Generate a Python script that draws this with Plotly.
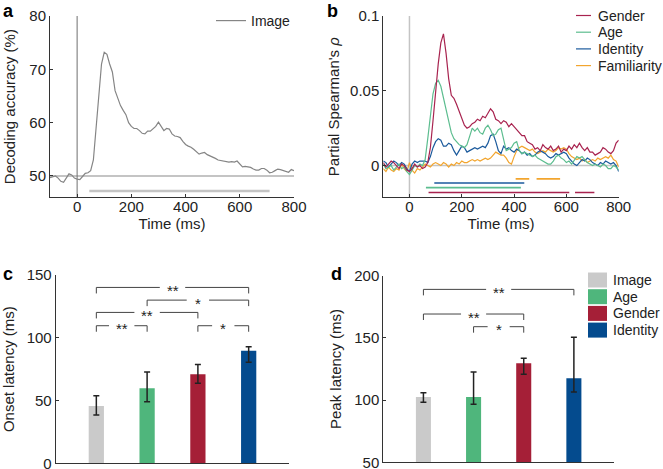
import plotly.graph_objects as go

# ---------------- data ----------------
time_ms = list(range(-100, 801, 10))

image_acc = [49.7, 49.8, 50.0, 49.6, 49.0, 48.8, 49.6, 50.4, 50.2, 49.6,
             49.4, 49.3, 49.9, 50.5, 50.6, 51.0, 53.0, 59.0, 66.5, 71.0,
             73.2, 72.8, 71.0, 69.5, 66.0, 64.5, 63.2, 62.3, 61.5, 60.0,
             59.3, 58.9, 58.9, 58.5, 58.0, 57.9, 58.4, 58.4, 58.8, 59.3,
             60.1, 59.4, 58.5, 58.9, 58.8, 57.9, 57.5, 57.4, 57.2, 56.5,
             55.9, 55.6, 55.4, 55.0, 54.6, 54.1, 54.3, 54.4, 54.0, 53.8,
             53.5, 53.3, 53.0, 52.9, 52.8, 52.7, 52.6, 52.7, 52.6, 52.8,
             52.3, 51.7, 51.8, 51.7, 51.6, 51.3, 51.1, 51.1, 51.4, 51.4,
             51.1, 50.6, 50.7, 51.0, 51.3, 51.2, 51.0, 50.8, 50.7, 51.2, 51.0]

gender_rho = [0.002, -0.001, 0.001, 0.003, 0.002, 0.000, -0.002, 0.001, 0.000, -0.003,
              -0.004, -0.002, 0.001, -0.001, 0.000, -0.002, -0.001, 0.002, 0.012, 0.030,
              0.052, 0.068, 0.082, 0.088, 0.075, 0.058, 0.047, 0.045, 0.041, 0.036,
              0.031, 0.027, 0.025, 0.026, 0.028, 0.029, 0.031, 0.030, 0.033, 0.032,
              0.035, 0.038, 0.036, 0.031, 0.030, 0.028, 0.030, 0.029, 0.026, 0.028,
              0.026, 0.024, 0.022, 0.020, 0.020, 0.016, 0.015, 0.014, 0.011, 0.012,
              0.010, 0.014, 0.012, 0.011, 0.013, 0.010, 0.011, 0.013, 0.009, 0.011,
              0.010, 0.013, 0.011, 0.014, 0.012, 0.015, 0.012, 0.010, 0.012, 0.009,
              0.009, 0.007, 0.008, 0.009, 0.012, 0.011, 0.009, 0.008, 0.010, 0.015, 0.017]

age_rho = [0.001, -0.002, -0.001, 0.000, -0.003, -0.001, 0.001, -0.002, -0.001, -0.004,
           -0.006, -0.003, 0.000, -0.001, 0.001, 0.000, 0.004, 0.018, 0.035, 0.048,
           0.055, 0.057, 0.053, 0.045, 0.038, 0.030, 0.022, 0.018, 0.016, 0.014,
           0.013, 0.012, 0.014, 0.020, 0.025, 0.023, 0.025, 0.022, 0.021, 0.025,
           0.027, 0.024, 0.020, 0.021, 0.024, 0.025, 0.018, 0.010, 0.011, 0.012,
           0.015, 0.016, 0.010, 0.008, 0.009, 0.008, 0.007, 0.006, 0.007, 0.005,
           0.004, 0.003, 0.002, 0.001, 0.001, 0.003, 0.006, 0.007, 0.005, 0.004,
           0.002, 0.003, 0.001, 0.004, 0.006, 0.005, 0.006, 0.004, 0.002, 0.001,
           0.000, 0.001, 0.000, -0.001, 0.001, 0.000, -0.002, -0.002, 0.000, -0.001, -0.003]

identity_rho = [0.003, 0.002, -0.001, 0.001, 0.003, 0.002, 0.000, 0.002, 0.001, -0.002,
                -0.004, 0.001, 0.003, 0.002, 0.003, 0.003, 0.003, 0.002, 0.006, 0.012,
                0.016, 0.018, 0.017, 0.013, 0.013, 0.015, 0.014, 0.010, 0.007, 0.010,
                0.013, 0.012, 0.009, 0.010, 0.011, 0.012, 0.011, 0.012, 0.013, 0.012,
                0.015, 0.020, 0.021, 0.016, 0.010, 0.008, 0.013, 0.011, 0.012, 0.010,
                0.009, 0.011, 0.010, 0.008, 0.009, 0.007, 0.008, 0.006, 0.007, 0.009,
                0.010, 0.009, 0.008, 0.006, 0.005, 0.006, 0.008, 0.007, 0.008, 0.009,
                0.008, 0.005, 0.003, 0.001, 0.000, 0.002, 0.004, 0.003, 0.005, 0.004,
                0.002, 0.001, 0.000, 0.002, 0.001, 0.003, 0.002, 0.001, 0.002, 0.000, -0.004]

familiarity_rho = [-0.002, -0.004, -0.001, -0.003, -0.004, -0.002, -0.003, 0.001, -0.002, -0.004,
                   0.002, -0.003, -0.005, -0.002, -0.003, -0.001, 0.001, 0.000, -0.001, 0.001,
                   0.002, 0.001, 0.000, 0.002, 0.001, -0.001, 0.001, 0.000, 0.002, 0.001,
                   0.003, 0.002, 0.002, 0.003, 0.004, 0.003, 0.004, 0.003, 0.004, 0.005,
                   0.004, 0.005, 0.007, 0.009, 0.008, 0.007, 0.007, 0.005, 0.002, 0.001,
                   0.006, 0.010, 0.012, 0.013, 0.012, 0.011, 0.010, 0.011, 0.009, 0.008,
                   0.009, 0.010, 0.009, 0.011, 0.010, 0.009, 0.010, 0.012, 0.011, 0.012,
                   0.011, 0.008, 0.006, 0.005, 0.004, 0.005, 0.003, 0.004, 0.002, 0.003,
                   0.004, 0.003, 0.005, 0.004, 0.005, 0.006, 0.005, 0.007, 0.004, 0.003, -0.001]

# significance windows (ms) and the level they are drawn at
image_sig = [[45, 710]]
image_sig_level = 47.2
familiarity_sig = [[406, 458], [486, 576]]
identity_sig = [[95, 439]]
age_sig = [[63, 426]]
gender_sig = [[73, 611], [633, 707]]
sig_levels_b = {"Familiarity": -0.0089, "Identity": -0.0116, "Age": -0.0147, "Gender": -0.018}

# bar panels
conditions = ["Image", "Age", "Gender", "Identity"]
onset_latency = [45.6, 59.7, 70.9, 89.7]
onset_err_hi = [53.9, 72.7, 78.8, 92.9]
onset_err_lo = [38.5, 49.0, 63.7, 80.4]
peak_latency = [102.5, 102.5, 129.6, 117.5]
peak_err_hi = [106.0, 122.6, 133.6, 150.5]
peak_err_lo = [98.2, 96.6, 120.7, 106.5]

# significance brackets: (from condition index, to condition index, level, label)
onset_brackets = [(1, 4, 140.1, "**"), (2, 4, 130.0, "*"), (1, 3, 120.2, "**"),
                  (1, 2, 109.6, "**"), (3, 4, 109.6, "*")]
peak_brackets = [(1, 4, 189.0, "**"), (1, 3, 169.2, "**"), (2, 3, 159.0, "*")]

# legend labels
line_legend_b = ["Gender", "Age", "Identity", "Familiarity"]

# ---------------- style ----------------
W, H = 663, 469
FONT = "Liberation Sans, Arial, Helvetica, sans-serif"
AX = "#333333"
TXT = "#222222"
C_IMAGE_LINE = "#858585"
C_IMAGE_BAR = "#cacaca"
C_GENDER_LINE = "#a8234f"
C_AGE_LINE = "#5cbd8f"
C_ID_LINE = "#1b5a9c"
C_FAM_LINE = "#f2a52e"
C_AGE_BAR = "#4fb67c"
C_GENDER_BAR = "#a51f37"
C_ID_BAR = "#044b8e"
bar_colors = [C_IMAGE_BAR, C_AGE_BAR, C_GENDER_BAR, C_ID_BAR]
line_colors_b = {"Gender": C_GENDER_LINE, "Age": C_AGE_LINE,
                 "Identity": C_ID_LINE, "Familiarity": C_FAM_LINE}

fig = go.Figure()


def seg_trace(segs, level, color, width, xaxis, yaxis):
    xs, ys = [], []
    for s, e in segs:
        xs += [s, e, None]
        ys += [level, level, None]
    return go.Scatter(x=xs, y=ys, mode="lines", line=dict(color=color, width=width),
                      showlegend=False, hoverinfo="skip", xaxis=xaxis, yaxis=yaxis)


# ---- panel a ----
fig.add_trace(go.Scatter(x=[-100, 800], y=[50, 50], mode="lines",
                         line=dict(color="#c4c4c4", width=2), showlegend=False,
                         hoverinfo="skip", xaxis="x", yaxis="y"))
fig.add_trace(go.Scatter(x=[0, 0], y=[46, 80], mode="lines",
                         line=dict(color="#707070", width=1), showlegend=False,
                         hoverinfo="skip", xaxis="x", yaxis="y"))
fig.add_trace(seg_trace(image_sig, image_sig_level, "#c4c4c4", 2.5, "x", "y"))
fig.add_trace(go.Scatter(x=time_ms, y=image_acc, mode="lines", name="Image",
                         line=dict(color=C_IMAGE_LINE, width=1.2),
                         xaxis="x", yaxis="y", legend="legend"))

# ---- panel b ----
fig.add_trace(go.Scatter(x=[-100, 800], y=[0, 0], mode="lines",
                         line=dict(color="#c4c4c4", width=1.5), showlegend=False,
                         hoverinfo="skip", xaxis="x2", yaxis="y2"))
fig.add_trace(go.Scatter(x=[0, 0], y=[-0.0212, 0.1], mode="lines",
                         line=dict(color="#c4c4c4", width=1.5), showlegend=False,
                         hoverinfo="skip", xaxis="x2", yaxis="y2"))
fig.add_trace(seg_trace(familiarity_sig, sig_levels_b["Familiarity"], C_FAM_LINE, 1.6, "x2", "y2"))
fig.add_trace(seg_trace(identity_sig, sig_levels_b["Identity"], C_ID_LINE, 1.6, "x2", "y2"))
fig.add_trace(seg_trace(age_sig, sig_levels_b["Age"], C_AGE_LINE, 1.6, "x2", "y2"))
fig.add_trace(seg_trace(gender_sig, sig_levels_b["Gender"], C_GENDER_LINE, 1.6, "x2", "y2"))
for name, vals in [("Familiarity", familiarity_rho), ("Identity", identity_rho),
                   ("Age", age_rho), ("Gender", gender_rho)]:
    fig.add_trace(go.Scatter(x=time_ms, y=vals, mode="lines", name=name,
                             line=dict(color=line_colors_b[name], width=1.2),
                             showlegend=False, xaxis="x2", yaxis="y2"))


# ---- panels c, d ----
def add_bars(vals, hi, lo, xa, ya):
    for i, cond in enumerate(conditions):
        fig.add_trace(go.Bar(
            x=[i + 1], y=[vals[i]], width=0.3, name=cond,
            marker=dict(color=bar_colors[i], line=dict(width=0)),
            error_y=dict(type="data", symmetric=False,
                         array=[hi[i] - vals[i]], arrayminus=[vals[i] - lo[i]],
                         color="#222222", thickness=1.5, width=3),
            showlegend=False, xaxis=xa, yaxis=ya))


def add_brackets(brackets, drop, xa, ya):
    for a, b, lev, lab in brackets:
        mid = (a + b) / 2
        half_gap = 0.25 if len(lab) > 1 else 0.22
        fig.add_trace(go.Scatter(
            x=[a, a, mid - half_gap, None, mid + half_gap, b, b],
            y=[lev - drop, lev, lev, None, lev, lev, lev - drop],
            mode="lines", line=dict(color="#444444", width=1),
            showlegend=False, hoverinfo="skip", xaxis=xa, yaxis=ya))
        fig.add_annotation(x=mid, y=lev, xref=xa, yref=ya,
                           text=lab, showarrow=False,
                           font=dict(size=15, color=TXT, family=FONT),
                           yshift=-3)


add_bars(onset_latency, onset_err_hi, onset_err_lo, "x3", "y3")
add_brackets(onset_brackets, 4.8, "x3", "y3")
add_bars(peak_latency, peak_err_hi, peak_err_lo, "x4", "y4")
add_brackets(peak_brackets, 4.8, "x4", "y4")

# ---- custom legends (panel b lines, panel d swatches) ----
for k, name in enumerate(line_legend_b):
    yc = 15.5 + k * 16.7
    fig.add_shape(type="line", xref="paper", yref="paper",
                  x0=576 / W, x1=591 / W, y0=1 - yc / H, y1=1 - yc / H,
                  line=dict(color=line_colors_b[name], width=1.2))
    fig.add_annotation(x=596 / W, y=1 - yc / H, xref="paper", yref="paper",
                       text=name, showarrow=False, xanchor="left", yanchor="middle",
                       font=dict(family=FONT, size=14, color=TXT))
for k, name in enumerate(conditions):
    yc = 280 + k * 16.7
    fig.add_shape(type="rect", xref="paper", yref="paper",
                  x0=588 / W, x1=607 / W, y0=1 - (yc - 7.5) / H, y1=1 - (yc + 7.5) / H,
                  fillcolor=bar_colors[k], line=dict(width=0))
    fig.add_annotation(x=611 / W, y=1 - yc / H, xref="paper", yref="paper",
                       text=name, showarrow=False, xanchor="left", yanchor="middle",
                       font=dict(family=FONT, size=14, color=TXT))

# ---------------- layout ----------------
tickfont = dict(family=FONT, size=15, color=TXT)
titlefont = dict(family=FONT, size=15, color=TXT)


def xax(domain, rng, anchor, tickvals=None, title=None, show_labels=True, ticks="inside"):
    d = dict(domain=domain, range=rng, anchor=anchor, showline=True, linecolor=AX,
             linewidth=1, showgrid=False, zeroline=False, ticks=ticks, ticklen=3,
             tickcolor=AX, tickfont=tickfont, showticklabels=show_labels,
             ticklabelstandoff=-4, automargin=False)
    if tickvals is not None:
        d["tickvals"] = tickvals
    if title:
        d["title"] = dict(text=title, font=titlefont, standoff=2)
    return d


def yax(domain, rng, anchor, tickvals, ticktext=None, title=None, standoff=6):
    d = dict(domain=domain, range=rng, anchor=anchor, showline=True, linecolor=AX,
             linewidth=1, showgrid=False, zeroline=False, ticks="inside", ticklen=3,
             tickcolor=AX, tickfont=tickfont, tickvals=tickvals,
             ticklabeloverflow="allow", automargin=False,
             title=dict(text=title, font=titlefont, standoff=standoff))
    if ticktext is not None:
        d["ticktext"] = ticktext
    return d


fig.update_layout(
    width=W, height=H,
    margin=dict(l=0, r=0, t=0, b=0, autoexpand=False),
    paper_bgcolor="white", plot_bgcolor="white",
    font=dict(family=FONT, size=14, color=TXT),
    barmode="overlay",
    xaxis=xax([50 / W, 294 / W], [-100, 800], "y", [0, 200, 400, 600, 800], "Time (ms)"),
    yaxis=yax([1 - 197.3 / H, 1 - 16 / H], [46, 80], "x", [50, 60, 70, 80],
              title="Decoding accuracy (%)", standoff=10),
    xaxis2=xax([383.3 / W, 618.7 / W], [-100, 800], "y2", [0, 200, 400, 600, 800], "Time (ms)"),
    yaxis2=yax([1 - 197.3 / H, 1 - 16 / H], [-0.0212, 0.1], "x2", [0, 0.05, 0.1],
               ["0", "0.05", "0.1"], title="Partial Spearman's <i>ρ</i>", standoff=6),
    xaxis3=xax([55.7 / W, 289.3 / W], [0.2, 4.8], "y3", [1, 2, 3, 4], show_labels=False, ticks=""),
    yaxis3=yax([1 - 463.3 / H, 1 - 275 / H], [0, 150], "x3", [0, 50, 100, 150],
               title="Onset latency (ms)", standoff=10),
    xaxis4=xax([383.3 / W, 614 / W], [0.2, 4.8], "y4", [1, 2, 3, 4], show_labels=False, ticks=""),
    yaxis4=yax([1 - 462.3 / H, 1 - 275.7 / H], [50, 200], "x4", [50, 100, 150, 200],
               title="Peak latency (ms)", standoff=9),
    legend=dict(x=296 / W, y=1 - 5 / H, xanchor="right", yanchor="top",
                bgcolor="rgba(0,0,0,0)", font=dict(family=FONT, size=14),
                itemwidth=30, tracegroupgap=0),
    showlegend=True,
)

# panel letters
for lab, px, py in [("a", 1, -1), ("b", 325, -1), ("c", 1, 262), ("d", 329, 262)]:
    fig.add_annotation(x=px / W, y=1 - py / H, xref="paper", yref="paper",
                       text=f"<b>{lab}</b>", showarrow=False, xanchor="left", yanchor="top",
                       font=dict(family=FONT, size=18, color="black"))

post = ("document.documentElement.style.overflow='hidden';"
        "document.body.style.margin='0';document.body.style.overflow='hidden';"
        "var gd=document.getElementById('{plot_id}');"
        "gd.style.position='fixed';gd.style.left='0px';gd.style.top='0px';"
        "gd.style.overflow='hidden';")
fig.write_html("out.html", config={"displayModeBar": False}, post_script=post)
